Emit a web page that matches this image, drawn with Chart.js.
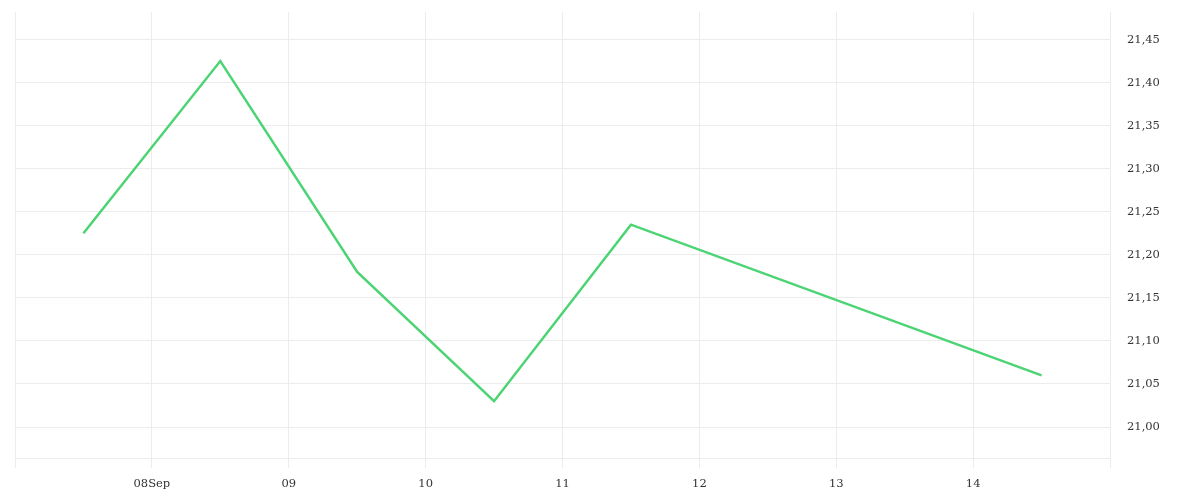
<!DOCTYPE html>
<html>
<head>
<meta charset="utf-8">
<script src="https://cdn.jsdelivr.net/npm/chart.js@4/dist/chart.umd.min.js"></script>
<style>
html,body{margin:0;padding:0;background:#fff;}
#wrap{width:1200px;height:500px;}
</style>
</head>
<body>
<div id="wrap"><canvas id="c"></canvas></div>
<script>
// Trading days (day of September, at midday) and closing values
const days = [7.5, 8.5, 9.5, 10.5, 11.5, 14.5];
const values = [21.225, 21.425, 21.18, 21.03, 21.235, 21.06];
const xTickLabels = {8: '08Sep', 9: '09', 10: '10', 11: '11', 12: '12', 13: '13', 14: '14'};

const gridColor = '#ececec';
const font = {family: '"DejaVu Serif", serif', size: 11.5};

new Chart(document.getElementById('c'), {
  type: 'line',
  data: {
    datasets: [{
      data: days.map((d, i) => ({x: d, y: values[i]})),
      borderColor: '#4cd474',
      borderWidth: 2.5,
      pointRadius: 0,
      tension: 0,
      fill: false
    }]
  },
  options: {
    responsive: true,
    maintainAspectRatio: false,
    animation: false,
    layout: {padding: {top: 12, left: 15, right: 0, bottom: 0}},
    plugins: {legend: {display: false}, tooltip: {enabled: false}},
    scales: {
      x: {
        type: 'linear',
        min: 7, max: 15,
        grid: {color: gridColor, tickLength: 10, drawTicks: true},
        border: {display: true, color: gridColor},
        ticks: {
          stepSize: 1, autoSkip: false, maxRotation: 0, padding: 9,
          color: '#333', font: font,
          callback: v => xTickLabels[v] || ''
        },
        afterFit: s => { s.height = 42; s.paddingLeft = 0; s.paddingRight = 0; }
      },
      y: {
        position: 'right',
        min: 20.964, max: 21.482,
        grid: {color: gridColor, drawTicks: false},
        border: {display: false},
        ticks: {
          stepSize: 0.05, padding: 17, color: '#333', font: font,
          callback: v => v.toFixed(2).replace('.', ',')
        },
        afterBuildTicks: s => {
          s.ticks = s.ticks.filter(t => Math.abs(t.value * 20 - Math.round(t.value * 20)) < 1e-6);
        },
        afterFit: s => { s.width = 90; s.paddingTop = 0; s.paddingBottom = 0; }
      }
    }
  }
});
</script>
</body>
</html>
